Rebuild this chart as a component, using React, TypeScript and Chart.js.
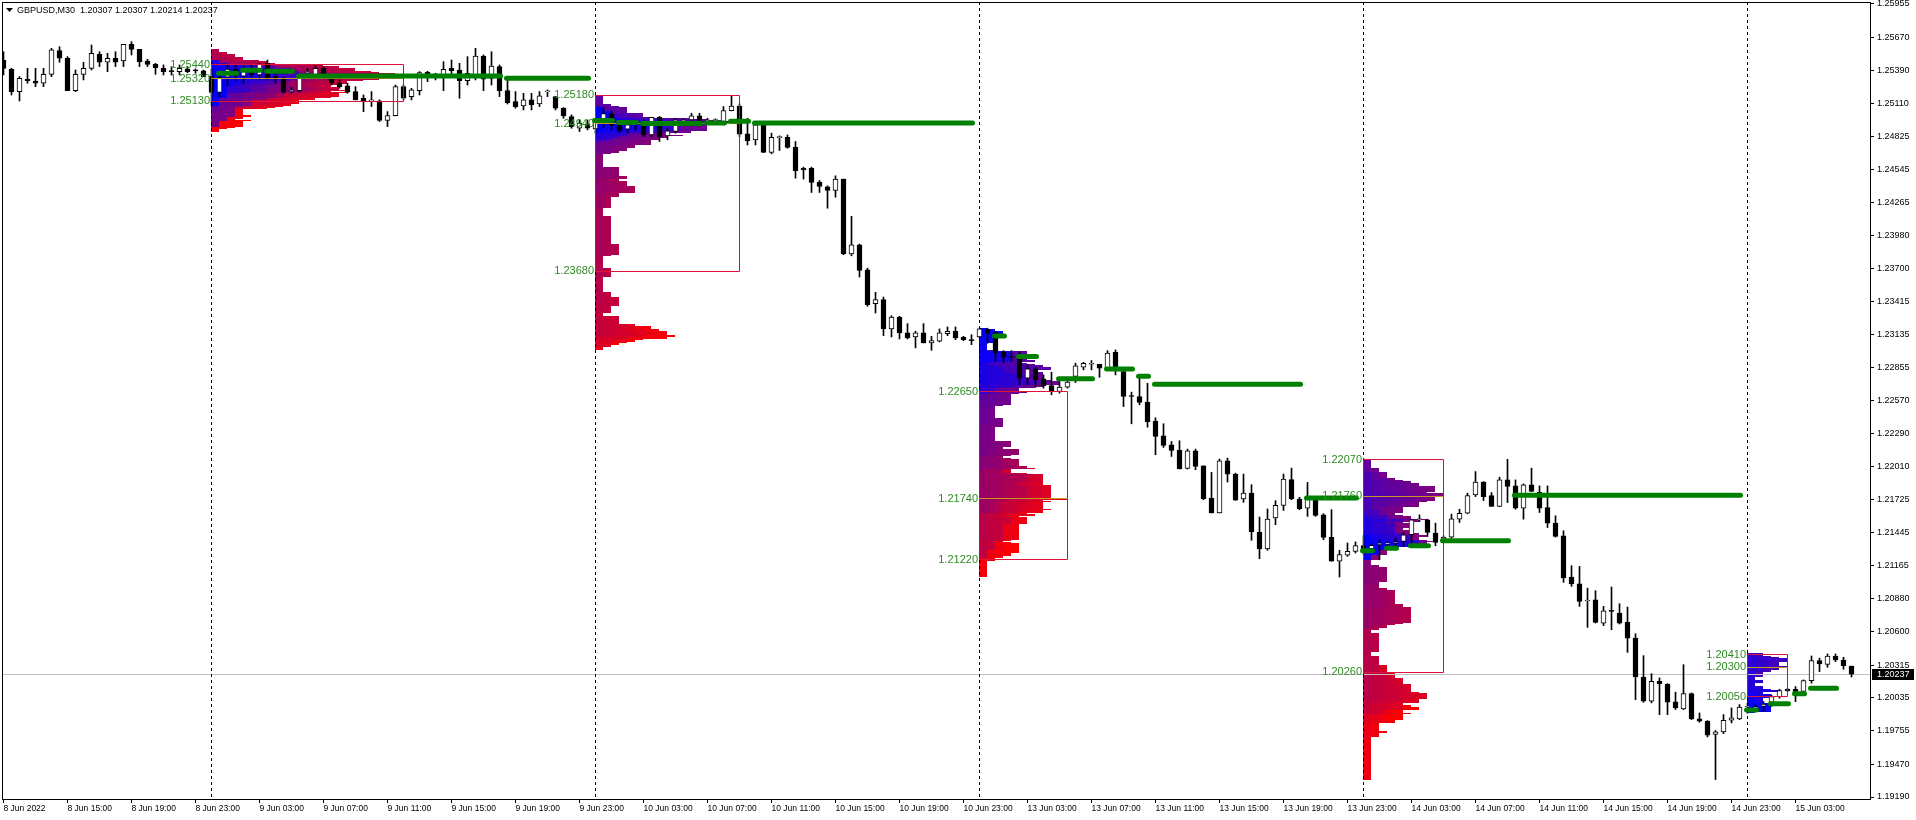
import React, { useEffect, useRef } from "react";
import { Chart, registerables } from "chart.js";

Chart.register(...registerables);

const symbolTitle = "GBPUSD,M30";

const open = [
1.25477,1.25398,1.25208,1.25313,1.25298,1.25279,1.25355,1.25557,1.25492,1.25216,
1.25355,1.25406,1.25526,1.25458,1.25492,1.25469,1.25611,1.25568,1.25469,1.25440,
1.25406,1.25381,1.25378,1.25401,1.25387,1.25384,1.25340,1.25200,1.25330,1.25400,
1.25340,1.25380,1.25350,1.25449,1.25335,1.25321,1.25210,1.25216,1.25370,1.25350,
1.25406,1.25321,1.25279,1.25256,1.25208,1.25151,1.25125,1.25128,1.24961,1.25003,
1.25250,1.25165,1.25216,1.25375,1.25358,1.25335,1.25406,1.25392,1.25301,1.25335,
1.25511,1.25321,1.25421,1.25216,1.25122,1.25085,1.25137,1.25102,1.25205,1.25165,
1.25066,1.24995,1.24895,1.24932,1.24890,1.24950,1.25020,1.24924,1.24887,1.24924,
1.24943,1.24838,1.24989,1.24830,1.24867,1.24943,1.24966,1.25000,1.24952,1.24960,
1.24943,1.25046,1.25085,1.24847,1.24796,1.24924,1.24688,1.24815,1.24818,1.24733,
1.24554,1.24554,1.24435,1.24395,1.24364,1.24461,1.23824,1.23901,1.23688,1.23399,
1.23433,1.23183,1.23285,1.23149,1.23115,1.23149,1.23063,1.23078,1.23143,1.23163,
1.23112,1.23092,1.23115,1.23180,1.23152,1.22987,1.22945,1.22942,1.22763,1.22842,
1.22757,1.22700,1.22649,1.22686,1.22777,1.22856,1.22882,1.22882,1.22848,1.22984,
1.22820,1.22610,1.22607,1.22558,1.22396,1.22272,1.22195,1.22149,1.21993,1.22144,
1.22016,1.21740,1.21613,1.22058,1.21945,1.21732,1.21783,1.21451,1.21306,1.21570,
1.21678,1.21897,1.21732,1.21655,1.21721,1.21598,1.21405,1.21201,1.21252,1.21286,
1.21334,1.21308,1.21342,1.21347,1.21356,1.21370,1.21427,1.21555,1.21555,1.21441,
1.21384,1.21407,1.21560,1.21611,1.21768,1.21876,1.21762,1.21668,1.21895,1.21844,
1.21654,1.21853,1.21790,1.21660,1.21526,1.21418,1.21066,1.21009,1.20862,1.20873,
1.20674,1.20776,1.20759,1.20680,1.20546,1.20214,1.20007,1.20177,1.20154,1.20001,
1.19941,1.20072,1.19856,1.19836,1.19723,1.19746,1.19845,1.19856,1.19958,1.19933,
1.19962,1.19996,1.20047,1.20109,1.20109,1.20090,1.20183,1.20354,1.20322,1.20393,
1.20359,1.20307];

const high = [
1.25548,1.25406,1.25335,1.25406,1.25406,1.25406,1.25577,1.25591,1.25506,1.25392,
1.25458,1.25605,1.25548,1.25534,1.25548,1.25611,1.25634,1.25568,1.25483,1.25449,
1.25435,1.25421,1.25435,1.25421,1.25401,1.25392,1.25400,1.25380,1.25440,1.25430,
1.25420,1.25440,1.25450,1.25477,1.25364,1.25335,1.25244,1.25350,1.25406,1.25435,
1.25421,1.25335,1.25307,1.25279,1.25250,1.25179,1.25208,1.25137,1.25037,1.25264,
1.25264,1.25236,1.25378,1.25381,1.25364,1.25463,1.25477,1.25449,1.25506,1.25577,
1.25520,1.25548,1.25435,1.25307,1.25208,1.25193,1.25193,1.25208,1.25222,1.25165,
1.25071,1.25009,1.24966,1.24966,1.24980,1.25070,1.25040,1.24950,1.24952,1.24960,
1.24966,1.24989,1.24995,1.24895,1.24980,1.24975,1.25023,1.25023,1.24980,1.24975,
1.25080,1.25171,1.25102,1.24980,1.24952,1.24938,1.24853,1.24830,1.24838,1.24782,
1.24563,1.24563,1.24449,1.24404,1.24489,1.24461,1.24143,1.23907,1.23702,1.23495,
1.23455,1.23296,1.23291,1.23228,1.23163,1.23228,1.23120,1.23183,1.23200,1.23200,
1.23120,1.23134,1.23191,1.23189,1.23160,1.22998,1.22998,1.22990,1.22876,1.22856,
1.22791,1.22814,1.22734,1.22749,1.22891,1.22899,1.22913,1.22882,1.22998,1.23004,
1.22834,1.22644,1.22777,1.22720,1.22425,1.22374,1.22223,1.22229,1.22158,1.22158,
1.22016,1.21959,1.22073,1.22081,1.21953,1.21945,1.21854,1.21578,1.21647,1.21718,
1.21945,1.21996,1.21746,1.21874,1.21740,1.21607,1.21641,1.21295,1.21357,1.21366,
1.21420,1.21350,1.21384,1.21370,1.21398,1.21447,1.21560,1.21597,1.21560,1.21526,
1.21418,1.21603,1.21645,1.21782,1.21966,1.21881,1.21787,1.21918,1.22071,1.21895,
1.21861,1.21995,1.21844,1.21844,1.21589,1.21461,1.21163,1.21157,1.20972,1.20950,
1.20816,1.20981,1.20839,1.20810,1.20583,1.20396,1.20242,1.20206,1.20157,1.20084,
1.20319,1.20078,1.19907,1.19842,1.19757,1.19893,1.19950,1.19978,1.19990,1.19976,
1.20004,1.20061,1.20109,1.20118,1.20132,1.20189,1.20393,1.20374,1.20410,1.20410,
1.20382,1.20307];

const low = [
1.25350,1.25179,1.25128,1.25279,1.25250,1.25250,1.25335,1.25458,1.25216,1.25208,
1.25307,1.25392,1.25421,1.25378,1.25421,1.25421,1.25520,1.25421,1.25421,1.25355,
1.25350,1.25350,1.25350,1.25369,1.25364,1.25335,1.25090,1.25160,1.25260,1.25300,
1.25280,1.25320,1.25310,1.25307,1.25279,1.25193,1.25193,1.25208,1.25335,1.25335,
1.25335,1.25264,1.25236,1.25193,1.25137,1.25037,1.25080,1.24952,1.24909,1.25000,
1.25137,1.25137,1.25179,1.25293,1.25307,1.25216,1.25350,1.25151,1.25264,1.25307,
1.25216,1.25264,1.25165,1.25102,1.25066,1.25051,1.25051,1.25080,1.25165,1.25051,
1.24980,1.24895,1.24867,1.24881,1.24853,1.24900,1.24880,1.24860,1.24853,1.24880,
1.24824,1.24818,1.24782,1.24796,1.24853,1.24930,1.24952,1.24938,1.24938,1.24945,
1.24924,1.25043,1.24824,1.24753,1.24753,1.24688,1.24677,1.24705,1.24725,1.24469,
1.24461,1.24347,1.24347,1.24213,1.24307,1.23816,1.23807,1.23626,1.23376,1.23319,
1.23126,1.23115,1.23098,1.23098,1.23021,1.23063,1.23001,1.23072,1.23126,1.23092,
1.23083,1.23049,1.23106,1.23061,1.22905,1.22891,1.22905,1.22706,1.22706,1.22686,
1.22678,1.22621,1.22635,1.22678,1.22726,1.22834,1.22834,1.22771,1.22834,1.22791,
1.22521,1.22374,1.22536,1.22345,1.22110,1.22172,1.22095,1.21988,1.21988,1.21982,
1.21726,1.21613,1.21613,1.21877,1.21721,1.21704,1.21380,1.21223,1.21295,1.21513,
1.21635,1.21726,1.21641,1.21584,1.21584,1.21385,1.21201,1.21067,1.21243,1.21272,
1.21260,1.21299,1.21214,1.21327,1.21327,1.21327,1.21356,1.21540,1.21413,1.21333,
1.21370,1.21398,1.21532,1.21606,1.21753,1.21719,1.21668,1.21668,1.21702,1.21645,
1.21560,1.21796,1.21617,1.21489,1.21407,1.21021,1.20987,1.20816,1.20637,1.20674,
1.20652,1.20617,1.20666,1.20424,1.20021,1.19998,1.19993,1.19893,1.19893,1.19936,
1.19936,1.19850,1.19828,1.19703,1.19339,1.19731,1.19822,1.19850,1.19905,1.19919,
1.19919,1.19962,1.20033,1.20090,1.20004,1.20081,1.20161,1.20260,1.20297,1.20345,
1.20280,1.20214];

const close = [
1.25406,1.25208,1.25321,1.25301,1.25279,1.25355,1.25563,1.25492,1.25216,1.25355,
1.25406,1.25534,1.25458,1.25492,1.25458,1.25611,1.25568,1.25463,1.25440,1.25412,
1.25378,1.25378,1.25406,1.25378,1.25384,1.25335,1.25200,1.25330,1.25400,1.25340,
1.25380,1.25350,1.25440,1.25321,1.25313,1.25208,1.25213,1.25335,1.25378,1.25406,
1.25350,1.25279,1.25250,1.25202,1.25137,1.25122,1.25137,1.24961,1.25003,1.25250,
1.25151,1.25222,1.25369,1.25358,1.25341,1.25398,1.25387,1.25301,1.25364,1.25511,
1.25313,1.25426,1.25216,1.25114,1.25080,1.25137,1.25094,1.25171,1.25208,1.25066,
1.25000,1.24909,1.24938,1.24895,1.24950,1.25020,1.24920,1.24875,1.24924,1.24940,
1.24838,1.24989,1.24824,1.24872,1.24966,1.24966,1.25000,1.24952,1.24966,1.24962,
1.25046,1.25085,1.24844,1.24790,1.24924,1.24688,1.24818,1.24818,1.24731,1.24534,
1.24540,1.24432,1.24398,1.24364,1.24461,1.23824,1.23901,1.23682,1.23390,1.23433,
1.23183,1.23285,1.23149,1.23106,1.23149,1.23063,1.23083,1.23149,1.23163,1.23106,
1.23092,1.23083,1.23183,1.23146,1.22981,1.22942,1.22939,1.22763,1.22842,1.22749,
1.22700,1.22649,1.22686,1.22729,1.22868,1.22890,1.22885,1.22848,1.22976,1.22834,
1.22607,1.22607,1.22556,1.22391,1.22266,1.22189,1.22147,1.21990,1.22144,1.22010,
1.21735,1.21613,1.22058,1.21945,1.21723,1.21783,1.21451,1.21306,1.21561,1.21678,
1.21902,1.21732,1.21650,1.21749,1.21593,1.21405,1.21201,1.21258,1.21286,1.21334,
1.21300,1.21336,1.21356,1.21356,1.21370,1.21427,1.21555,1.21560,1.21447,1.21361,
1.21407,1.21563,1.21611,1.21762,1.21876,1.21753,1.21668,1.21895,1.21839,1.21654,
1.21853,1.21796,1.21654,1.21526,1.21413,1.21058,1.21007,1.20859,1.20865,1.20680,
1.20779,1.20773,1.20674,1.20546,1.20214,1.20007,1.20177,1.20157,1.19998,1.19950,
1.20072,1.19856,1.19836,1.19717,1.19746,1.19845,1.19865,1.19958,1.19965,1.19962,
1.19982,1.20047,1.20098,1.20095,1.20075,1.20183,1.20354,1.20325,1.20393,1.20359,
1.20311,1.20237];

// time axis labels, one every 8 bars (4 hours of M30)
const timeLabels = [
"8 Jun 2022","8 Jun 15:00","8 Jun 19:00","8 Jun 23:00","9 Jun 03:00","9 Jun 07:00",
"9 Jun 11:00","9 Jun 15:00","9 Jun 19:00","9 Jun 23:00","10 Jun 03:00","10 Jun 07:00",
"10 Jun 11:00","10 Jun 15:00","10 Jun 19:00","10 Jun 23:00","13 Jun 03:00","13 Jun 07:00",
"13 Jun 11:00","13 Jun 15:00","13 Jun 19:00","13 Jun 23:00","14 Jun 03:00","14 Jun 07:00",
"14 Jun 11:00","14 Jun 15:00","14 Jun 19:00","14 Jun 23:00","15 Jun 03:00"];
const barsPerTimeLabel = 8;

const priceTicks = [
1.25955,1.25670,1.25390,1.25110,1.24825,1.24545,1.24265,1.23980,1.23700,1.23415,
1.23135,1.22855,1.22570,1.22290,1.22010,1.21725,1.21445,1.21165,1.20880,1.20600,
1.20315,1.20035,1.19755,1.19470,1.19190];

// market profile sessions (bar index of day start) and their levels
const sessionStarts = [26, 74, 122, 170, 218];
const sessionVAH = [1.25440, 1.25180, 1.22650, 1.22070, 1.20410];
const sessionPOC = [1.25320, 1.24940, 1.21740, 1.21760, 1.20300];
const sessionVAL = [1.25130, 1.23680, 1.21220, 1.20260, 1.20050];
const tpoStep = 0.0001;

// developing POC segments
const devPocStart = [27,30,33,37,63, 74,77,80,88,91,94, 124,127,132,138,142,144,163, 170,173,176,180,189, 218,221,224,226];
const devPocEnd   = [29,32,36,62,73, 76,79,87,90,93,121, 125,129,136,141,143,162,169, 171,174,178,188,217, 219,223,225,229];
const devPocPrice = [1.25364,1.25389,1.25381,1.25341,1.25321, 1.24961,1.24943,1.24935,1.24940,1.24955,1.24940,
  1.23123,1.22947,1.22757,1.22842,1.22780,1.22712,1.21741, 1.21290,1.21313,1.21333,1.21376,1.21765,
  1.19933,1.19985,1.20070,1.20118];

const yMax = 1.25972;
const yMin = 1.19173;
const xMin = -0.1875;
const xMax = 233.3125;

const FONT = '"Liberation Sans", Arial, sans-serif';

function buildProfiles() {
  const n = close.length;
  const sessionLen = sessionStarts[1] - sessionStarts[0];
  return sessionStarts.map((start, s) => {
    const end = s + 1 < sessionStarts.length ? sessionStarts[s + 1] - 1 : n - 1;
    const rows = new Map<number, number[]>();
    for (let t = start; t <= end; t++) {
      const lo = Math.ceil(low[t] / tpoStep - 1e-6);
      const hi = Math.floor(high[t] / tpoStep + 1e-6);
      for (let l = lo; l <= hi; l++) {
        if (!rows.has(l)) rows.set(l, []);
        rows.get(l)!.push(t);
      }
    }
    let maxCount = 0;
    rows.forEach((b) => { if (b.length > maxCount) maxCount = b.length; });
    return { start, end, rows, maxCount, sessionLen, s };
  });
}

const profileColor = (f: number) => {
  const c = Math.max(0, Math.min(1, f));
  return `rgb(${Math.round(255 * c)},0,${Math.round(255 * (1 - c))})`;
};

export default function App() {
  const canvasRef = useRef<HTMLCanvasElement | null>(null);

  useEffect(() => {
    const canvas = canvasRef.current;
    if (!canvas) return;
    const profiles = buildProfiles();
    const last = close.length - 1;

    const overlay = {
      id: "mtOverlay",
      beforeDatasetsDraw(chart: any) {
        const { ctx, chartArea: ca, scales } = chart;
        const x = scales.x, y = scales.y;
        const barPx = x.getPixelForValue(1) - x.getPixelForValue(0);
        ctx.save();
        ctx.beginPath();
        ctx.rect(ca.left, ca.top, ca.right - ca.left, ca.bottom - ca.top);
        ctx.clip();
        // profiles
        profiles.forEach((pr) => {
          const x0 = Math.floor(x.getPixelForValue(pr.start));
          pr.rows.forEach((bars, lvl) => {
            const yt = Math.round(y.getPixelForValue((lvl + 0.5) * tpoStep));
            const yb = Math.round(y.getPixelForValue((lvl - 0.5) * tpoStep));
            if (yb <= yt) return;
            bars.forEach((t, k) => {
              ctx.fillStyle = profileColor((t - pr.start) / (pr.sessionLen - 1));
              ctx.fillRect(x0 + k * barPx, yt, barPx, yb - yt);
            });
          });
        });
        // current price line
        const yc = Math.round(y.getPixelForValue(close[last])) + 0.5;
        ctx.strokeStyle = "#C0C0C0";
        ctx.lineWidth = 1;
        ctx.beginPath();
        ctx.moveTo(ca.left, yc);
        ctx.lineTo(ca.right, yc);
        ctx.stroke();
        // day separators
        ctx.strokeStyle = "#000";
        ctx.setLineDash([3, 3]);
        sessionStarts.forEach((s) => {
          const xs = Math.floor(x.getPixelForValue(s)) + 0.5;
          ctx.beginPath();
          ctx.moveTo(xs, ca.top);
          ctx.lineTo(xs, ca.bottom);
          ctx.stroke();
        });
        ctx.setLineDash([]);
        ctx.restore();
      },
      afterDatasetsDraw(chart: any) {
        const { ctx, chartArea: ca, scales } = chart;
        const x = scales.x, y = scales.y;
        const barPx = x.getPixelForValue(1) - x.getPixelForValue(0);
        ctx.save();
        ctx.beginPath();
        ctx.rect(ca.left, ca.top, ca.right - ca.left, ca.bottom - ca.top);
        ctx.clip();
        // value area boxes
        profiles.forEach((pr, s) => {
          const x0 = Math.floor(x.getPixelForValue(pr.start)) + 0.5;
          const x1 = x0 + pr.maxCount * barPx;
          const yH = Math.round(y.getPixelForValue(sessionVAH[s])) + 0.5;
          const yL = Math.round(y.getPixelForValue(sessionVAL[s])) + 0.5;
          const yP = Math.round(y.getPixelForValue(sessionPOC[s])) + 0.5;
          ctx.lineWidth = 1;
          ctx.strokeStyle = "#008000";
          ctx.beginPath();
          ctx.moveTo(x0, yH); ctx.lineTo(x0, yL);
          ctx.moveTo(x1, yH); ctx.lineTo(x1, yL);
          ctx.stroke();
          ctx.strokeStyle = "#DC143C";
          ctx.beginPath();
          ctx.moveTo(x0, yH); ctx.lineTo(x1, yH);
          ctx.moveTo(x0, yL); ctx.lineTo(x1, yL);
          ctx.stroke();
          ctx.strokeStyle = "#C8961E";
          ctx.beginPath();
          ctx.moveTo(x0, yP); ctx.lineTo(x1, yP);
          ctx.stroke();
        });
        // developing POC
        ctx.strokeStyle = "#008000";
        ctx.lineWidth = 5;
        ctx.lineCap = "round";
        devPocStart.forEach((a, k) => {
          const yy = y.getPixelForValue(devPocPrice[k]);
          ctx.beginPath();
          ctx.moveTo(x.getPixelForValue(a) - 1, yy);
          ctx.lineTo(x.getPixelForValue(devPocEnd[k]) + 1, yy);
          ctx.stroke();
        });
        ctx.lineCap = "butt";
        // level labels
        ctx.font = `11px ${FONT}`;
        ctx.fillStyle = "#2E8B22";
        ctx.textAlign = "right";
        ctx.textBaseline = "middle";
        profiles.forEach((pr, s) => {
          const xr = Math.floor(x.getPixelForValue(pr.start)) - 1;
          [sessionVAH[s], sessionPOC[s], sessionVAL[s]].forEach((v) => {
            ctx.fillText(v.toFixed(5), xr, y.getPixelForValue(v) + 0.5);
          });
        });
        ctx.restore();

        ctx.save();
        // header
        ctx.fillStyle = "#000";
        ctx.beginPath();
        ctx.moveTo(6, 8); ctx.lineTo(13, 8); ctx.lineTo(9.5, 12); ctx.closePath();
        ctx.fill();
        ctx.font = `9px ${FONT}`;
        ctx.textAlign = "left";
        ctx.textBaseline = "middle";
        ctx.fillText(
          `${symbolTitle}  ${open[last].toFixed(5)} ${high[last].toFixed(5)} ${low[last].toFixed(5)} ${close[last].toFixed(5)}`,
          17, 10.5
        );
        // border
        ctx.strokeStyle = "#000";
        ctx.lineWidth = 1;
        ctx.strokeRect(ca.left + 0.5, ca.top + 0.5, ca.right - ca.left, ca.bottom - ca.top);
        // price tag
        const yc = Math.round(y.getPixelForValue(close[last]));
        ctx.fillStyle = "#000";
        ctx.fillRect(ca.right + 2, yc - 5, 42, 11);
        ctx.fillStyle = "#fff";
        ctx.font = `9px ${FONT}`;
        ctx.fillText(close[last].toFixed(5), ca.right + 7, yc + 0.5);
        ctx.restore();
      },
    };

    const idx = close.map((_, i) => i);
    const chart = new Chart(canvas, {
      type: "bar",
      data: {
        datasets: [
          {
            label: "body",
            order: 0,
            grouped: false,
            data: idx.map((i) => ({ x: i, y: [Math.min(open[i], close[i]), Math.max(open[i], close[i])] })),
            backgroundColor: idx.map((i) => (close[i] >= open[i] ? "#ffffff" : "#000000")),
            borderColor: "#000000",
            borderWidth: 1,
            borderSkipped: false,
            barThickness: 5,
            minBarLength: 1,
          } as any,
          {
            label: "wick",
            order: 1,
            grouped: false,
            data: idx.map((i) => ({ x: i, y: [low[i], high[i]] })),
            backgroundColor: "#000000",
            borderWidth: 0,
            barThickness: 1,
            minBarLength: 1,
          } as any,
        ],
      },
      options: {
        responsive: false,
        animation: false,
        devicePixelRatio: 1,
        events: [],
        layout: { padding: { left: 2, top: 2, right: 0, bottom: 0 } },
        plugins: { legend: { display: false }, tooltip: { enabled: false } },
        scales: {
          x: {
            type: "linear",
            min: xMin,
            max: xMax,
            offset: false,
            border: { display: false },
            grid: { display: true, drawOnChartArea: false, drawTicks: true, tickLength: 4, color: "#000", offset: false },
            afterBuildTicks: (scale: any) => {
              scale.ticks = timeLabels.map((_, k) => ({ value: k * barsPerTimeLabel }));
            },
            afterFit: (scale: any) => {
              scale.height = 21;
              scale.paddingLeft = 0; scale.paddingRight = 0; scale.paddingTop = 0; scale.paddingBottom = 0;
            },
            ticks: {
              autoSkip: false,
              maxRotation: 0,
              minRotation: 0,
              align: "start",
              padding: 1,
              color: "#000",
              font: { family: FONT, size: 8.5 },
              callback: (v: any) => timeLabels[Math.round(Number(v) / barsPerTimeLabel)] ?? "",
            },
          } as any,
          y: {
            type: "linear",
            position: "right",
            min: yMin,
            max: yMax,
            border: { display: false },
            grid: { display: true, drawOnChartArea: false, drawTicks: true, tickLength: 4, color: "#000" },
            afterBuildTicks: (scale: any) => {
              scale.ticks = priceTicks.map((v) => ({ value: v }));
            },
            afterFit: (scale: any) => {
              scale.width = 46;
              scale.paddingLeft = 0; scale.paddingRight = 0; scale.paddingTop = 0; scale.paddingBottom = 0;
            },
            ticks: {
              autoSkip: false,
              padding: 3,
              color: "#000",
              font: { family: FONT, size: 9 },
              callback: (v: any) => Number(v).toFixed(5),
            },
          } as any,
        },
      },
      plugins: [overlay as any],
    });
    return () => chart.destroy();
  }, []);

  return (
    <div style={{ position: "fixed", left: 0, top: 0, width: 1916, height: 820, background: "#fff" }}>
      <canvas ref={canvasRef} width={1916} height={820} style={{ display: "block", width: 1916, height: 820 }} />
    </div>
  );
}
